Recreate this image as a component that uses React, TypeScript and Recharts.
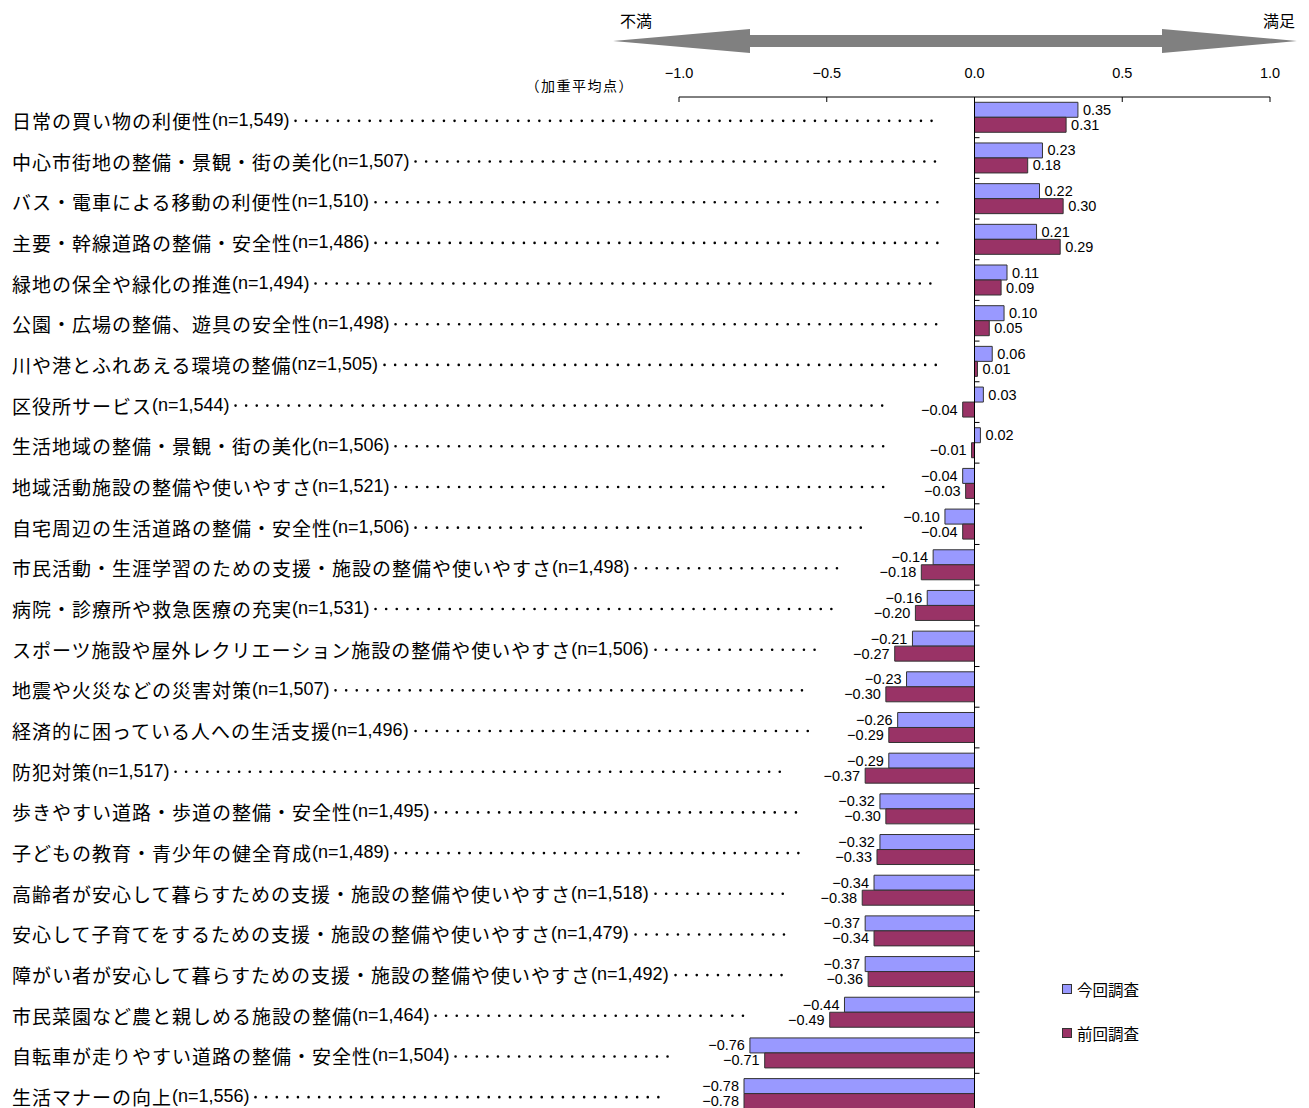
import React from "react";
import { Bar, BarChart, LabelList, Legend, ReferenceLine, XAxis, YAxis } from "recharts";

const ITEMS = [
  "日常の買い物の利便性",
  "中心市街地の整備・景観・街の美化",
  "バス・電車による移動の利便性",
  "主要・幹線道路の整備・安全性",
  "緑地の保全や緑化の推進",
  "公園・広場の整備、遊具の安全性",
  "川や港とふれあえる環境の整備",
  "区役所サービス",
  "生活地域の整備・景観・街の美化",
  "地域活動施設の整備や使いやすさ",
  "自宅周辺の生活道路の整備・安全性",
  "市民活動・生涯学習のための支援・施設の整備や使いやすさ",
  "病院・診療所や救急医療の充実",
  "スポーツ施設や屋外レクリエーション施設の整備や使いやすさ",
  "地震や火災などの災害対策",
  "経済的に困っている人への生活支援",
  "防犯対策",
  "歩きやすい道路・歩道の整備・安全性",
  "子どもの教育・青少年の健全育成",
  "高齢者が安心して暮らすための支援・施設の整備や使いやすさ",
  "安心して子育てをするための支援・施設の整備や使いやすさ",
  "障がい者が安心して暮らすための支援・施設の整備や使いやすさ",
  "市民菜園など農と親しめる施設の整備",
  "自転車が走りやすい道路の整備・安全性",
  "生活マナーの向上",
];

const SAMPLES = [
  "n=1,549", "n=1,507", "n=1,510", "n=1,486", "n=1,494", "n=1,498", "nz=1,505",
  "n=1,544", "n=1,506", "n=1,521", "n=1,506", "n=1,498", "n=1,531", "n=1,506",
  "n=1,507", "n=1,496", "n=1,517", "n=1,495", "n=1,489", "n=1,518", "n=1,479",
  "n=1,492", "n=1,464", "n=1,504", "n=1,556",
];

// 今回調査
const CURRENT = [
  0.35, 0.23, 0.22, 0.21, 0.11, 0.10, 0.06, 0.03, 0.02, -0.04, -0.10, -0.14, -0.16,
  -0.21, -0.23, -0.26, -0.29, -0.32, -0.32, -0.34, -0.37, -0.37, -0.44, -0.76, -0.78,
];

// 前回調査
const PREVIOUS = [
  0.31, 0.18, 0.30, 0.29, 0.09, 0.05, 0.01, -0.04, -0.01, -0.03, -0.04, -0.18, -0.20,
  -0.27, -0.30, -0.29, -0.37, -0.30, -0.33, -0.38, -0.34, -0.36, -0.49, -0.71, -0.78,
];

const X_TICKS = [-1, -0.5, 0, 0.5, 1];
const SERIES = ["今回調査", "前回調査"];
const COLORS = ["#9999FF", "#993366"];

const W = 1309;
const H = 1114;
const PLOT_LEFT = 679;
const PLOT_RIGHT = 1270;
const PLOT_TOP = 97;
const BAND = (H - PLOT_TOP) / ITEMS.length;
const ZERO_X = (PLOT_LEFT + PLOT_RIGHT) / 2;
const toX = (v: number) => ZERO_X + (v * (PLOT_RIGHT - PLOT_LEFT)) / 2;

const data = ITEMS.map((name, i) => ({
  name,
  n: SAMPLES[i],
  cur: CURRENT[i],
  prev: PREVIOUS[i],
}));

const JP = '"Noto Sans CJK JP", sans-serif';
const LAT = '"Liberation Sans", Arial, sans-serif';

let ctx: CanvasRenderingContext2D | null = null;
function textWidth(s: string, font: string) {
  if (!ctx) ctx = document.createElement("canvas").getContext("2d");
  if (!ctx) return s.length * 19;
  ctx.font = font;
  return ctx.measureText(s).width;
}

const minus = (s: string) => s.replace("-", "\u2212");

function CategoryTick(props: any) {
  const { y, payload } = props;
  const d = data[payload.index];
  const mainW = textWidth(d.name, `19px ${JP}`) + d.name.length * 1;
  const nW = textWidth(`(${d.n})`, `18px ${LAT}`);
  const lo = Math.min(d.cur, d.prev, 0);
  const dotEnd = toX(lo) - (lo < 0 ? 78 : 35);
  const dotStart = 12 + mainW + nW + 6;
  return (
    <g>
      <text x={12} y={y + 2.5} dominantBaseline="central" fill="#000">
        <tspan fontFamily={JP} fontSize={19} letterSpacing={1}>
          {d.name}
        </tspan>
        <tspan fontFamily={LAT} fontSize={18}>
          ({d.n})
        </tspan>
      </text>
      {dotEnd > dotStart && (
        <line
          x1={dotStart}
          x2={dotEnd}
          y1={y + 3.5}
          y2={y + 3.5}
          stroke="#000"
          strokeWidth={2.6}
          strokeLinecap="round"
          strokeDasharray="0 10.6"
        />
      )}
      <line x1={ZERO_X} x2={ZERO_X + 5} y1={y + BAND / 2} y2={y + BAND / 2} stroke="#000" />
    </g>
  );
}

function ValueLabel(props: any) {
  const { x, y, width, height, value } = props;
  const v = Number(value);
  const edge = v >= 0 ? Math.max(x, x + width) : Math.min(x, x + width);
  return (
    <text
      x={v >= 0 ? edge + 5 : edge - 5}
      y={y + height / 2}
      textAnchor={v >= 0 ? "start" : "end"}
      dominantBaseline="central"
      fontSize={14.5}
      fontFamily={LAT}
      fill="#000"
    >
      {minus(v.toFixed(2))}
    </text>
  );
}

function LegendBox(props: any) {
  const items = props.payload || [];
  return (
    <div style={{ fontFamily: JP, fontSize: 15.5, color: "#000" }}>
      {items.map((it: any, i: number) => (
        <div key={i} style={{ display: "flex", alignItems: "center", height: 22, marginBottom: 22 }}>
          <span
            style={{
              display: "inline-block",
              width: 8,
              height: 8,
              background: it.color,
              border: "1px solid #333",
              marginRight: 5,
            }}
          />
          {it.value}
        </div>
      ))}
    </div>
  );
}

export default function App() {
  return (
    <div
      style={{
        position: "absolute",
        left: 0,
        top: 0,
        width: W,
        height: 1108,
        overflow: "hidden",
        background: "#fff",
        fontFamily: LAT,
      }}
    >
      <svg width={W} height={100} style={{ position: "absolute", left: 0, top: 0 }}>
        <polygon
          points="613,41 750,29 750,35 1162,35 1162,29 1297,41 1162,53 1162,47 750,47 750,53"
          fill="#808080"
        />
        <text x={620} y={20} dominantBaseline="central" fontFamily={JP} fontSize={16}>
          不満
        </text>
        <text x={1295} y={20} dominantBaseline="central" textAnchor="end" fontFamily={JP} fontSize={16}>
          満足
        </text>
        <text
          x={634}
          y={85}
          dominantBaseline="central"
          textAnchor="end"
          fontFamily={JP}
          fontSize={14}
          letterSpacing={1.5}
        >
          （加重平均点）
        </text>
      </svg>
      <BarChart
        width={W}
        height={H}
        data={data}
        layout="vertical"
        margin={{ top: 0, right: W - PLOT_RIGHT, bottom: 0, left: 0 }}
        barCategoryGap="13%"
        barGap={0}
      >
        <XAxis
          type="number"
          orientation="top"
          domain={[-1, 1]}
          ticks={X_TICKS}
          interval={0}
          height={PLOT_TOP}
          tickSize={-5}
          tickMargin={24}
          axisLine={{ stroke: "#000" }}
          tickLine={{ stroke: "#000" }}
          tick={{ fontSize: 14.5, fill: "#000", fontFamily: LAT }}
          tickFormatter={(v: number) => minus(v.toFixed(1))}
        />
        <YAxis
          type="category"
          dataKey="name"
          width={PLOT_LEFT}
          interval={0}
          axisLine={false}
          tickLine={false}
          tick={<CategoryTick />}
        />
        <Legend
          layout="vertical"
          align="center"
          verticalAlign="middle"
          content={<LegendBox />}
          wrapperStyle={{ position: "absolute", left: 1062, top: 978, width: 120, height: 80 }}
        />
        <Bar
          dataKey="cur"
          name={SERIES[0]}
          fill={COLORS[0]}
          stroke="#333"
          strokeWidth={1}
          isAnimationActive={false}
        >
          <LabelList dataKey="cur" content={<ValueLabel />} />
        </Bar>
        <Bar
          dataKey="prev"
          name={SERIES[1]}
          fill={COLORS[1]}
          stroke="#333"
          strokeWidth={1}
          isAnimationActive={false}
        >
          <LabelList dataKey="prev" content={<ValueLabel />} />
        </Bar>
        <ReferenceLine x={0} stroke="#000" strokeWidth={1} />
      </BarChart>
    </div>
  );
}
